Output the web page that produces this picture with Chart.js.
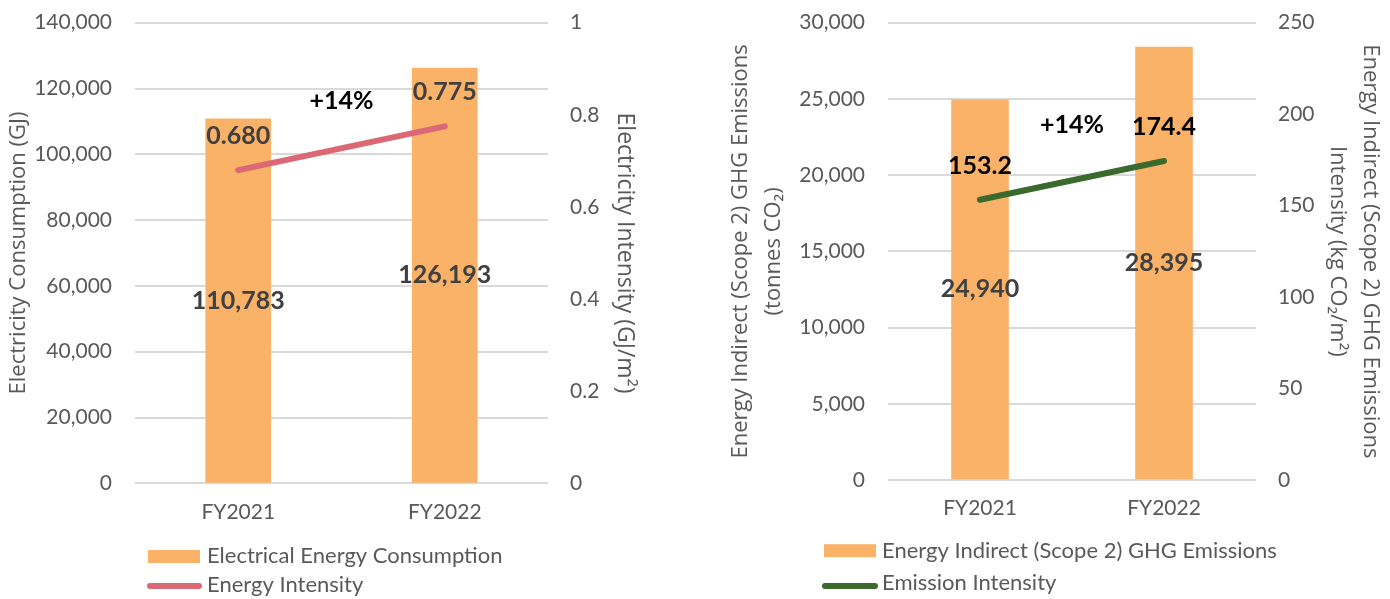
<!DOCTYPE html>
<html>
<head>
<meta charset="utf-8">
<script src="https://cdn.jsdelivr.net/npm/chart.js@4.4.0/dist/chart.umd.min.js"></script>
<style>
  html, body { margin: 0; padding: 0; background: #ffffff; }
  #wrap { position: relative; width: 1390px; height: 599px; overflow: hidden; }
  canvas { position: absolute; top: 0; }
  #energyChart { left: 0; }
  #emissionChart { left: 695px; }
</style>
</head>
<body>
<div id="wrap">
  <canvas id="energyChart" width="695" height="599"></canvas>
  <canvas id="emissionChart" width="695" height="599"></canvas>
</div>
<script>
// ---- data ----
const years = ['FY2021', 'FY2022'];

const electricityConsumptionGJ = [110783, 126193];
const energyIntensityGJm2 = [0.680, 0.775];

const scope2EmissionsTonnes = [24940, 28395];
const emissionIntensityKgM2 = [153.2, 174.4];

const yoyChange = ['+14%', '+14%'];

const consumptionTicks = [0, 20000, 40000, 60000, 80000, 100000, 120000, 140000];
const energyIntensityTicks = [0, 0.2, 0.4, 0.6, 0.8, 1];
const emissionTicks = [0, 5000, 10000, 15000, 20000, 25000, 30000];
const emissionIntensityTicks = [0, 50, 100, 150, 200, 250];

// ---- look ----
const ORANGE = '#F9B268';
const PINK = '#DB6874';
const GREEN = '#3A6A2C';
const GRID = '#D9D9D9';
const TEXT = '#595959';
const TICK_FONT = { family: 'Lato', size: 21 };
const TITLE_FAMILY = 'Open Sans';
const BOLD = 'bold 25px Lato';

const fmtInt = v => v.toLocaleString('en-US');

// numbers printed on bars (centred) and above the line points
function valueLabels(cfg) {
  return {
    id: 'valueLabels',
    afterDatasetsDraw(chart) {
      const ctx = chart.ctx;
      ctx.save();
      ctx.textAlign = 'center';
      ctx.textBaseline = 'middle';
      cfg.series.forEach(s => {
        const meta = chart.getDatasetMeta(s.dataset);
        const values = chart.data.datasets[s.dataset].data;
        ctx.font = s.font;
        ctx.fillStyle = s.color;
        meta.data.forEach((el, i) => {
          const text = s.decimals > 0 ? values[i].toFixed(s.decimals) : fmtInt(values[i]);
          const y = meta.type === 'bar' ? (el.y + el.base) / 2 : el.y - s.lift;
          ctx.fillText(text, el.x, y);
        });
      });
      // growth note between the two years
      const note = cfg.note;
      const lineMeta = chart.getDatasetMeta(note.dataset);
      const p0 = lineMeta.data[0], p1 = lineMeta.data[1];
      const yScale = chart.scales[note.axis];
      ctx.font = note.font;
      ctx.fillStyle = note.color;
      ctx.fillText(note.text, (p0.x + p1.x) / 2, yScale.getPixelForValue(note.at));
      ctx.restore();
    }
  };
}

// legend stacked in rows under the axis
function stackedLegend(cfg) {
  return {
    id: 'stackedLegend',
    afterDraw(chart) {
      const ctx = chart.ctx;
      ctx.save();
      ctx.font = cfg.font;
      ctx.textBaseline = 'middle';
      ctx.textAlign = 'left';
      cfg.items.forEach(it => {
        const ds = chart.data.datasets[it.dataset];
        if (ds.type === 'bar') {
          ctx.fillStyle = ds.backgroundColor;
          ctx.fillRect(it.x, it.y - it.h / 2, it.w, it.h);
        } else {
          ctx.strokeStyle = ds.borderColor;
          ctx.lineWidth = 6;
          ctx.lineCap = 'round';
          ctx.beginPath();
          ctx.moveTo(it.x + 3, it.y);
          ctx.lineTo(it.x + it.w - 3, it.y);
          ctx.stroke();
        }
        ctx.fillStyle = TEXT;
        ctx.fillText(ds.label, it.textX, it.textY);
      });
      ctx.restore();
    }
  };
}

function fixedTicks(values, fmt) {
  return {
    afterBuildTicks(scale) { scale.ticks = values.map(v => ({ value: v })); },
    callback: fmt
  };
}

function buildChart(canvasId, spec) {
  const leftTicks = fixedTicks(spec.leftTicks, v => fmtInt(v));
  const rightTicks = fixedTicks(spec.rightTicks, v => String(v));
  return new Chart(document.getElementById(canvasId), {
    type: 'bar',
    data: {
      labels: years,
      datasets: [
        {
          type: 'line',
          label: spec.lineLabel,
          data: spec.lineData,
          yAxisID: 'y1',
          borderColor: spec.lineColor,
          backgroundColor: spec.lineColor,
          borderWidth: 6,
          borderCapStyle: 'round',
          pointRadius: 0,
          tension: 0,
          fill: false,
          order: 0
        },
        {
          type: 'bar',
          label: spec.barLabel,
          data: spec.barData,
          yAxisID: 'y',
          backgroundColor: ORANGE,
          barThickness: spec.barThickness,
          order: 1
        }
      ]
    },
    options: {
      responsive: false,
      animation: false,
      devicePixelRatio: 1,
      layout: { padding: { top: spec.top, left: 0, right: 0, bottom: 0 } },
      plugins: { legend: { display: false }, tooltip: { enabled: false } },
      scales: {
        x: {
          grid: { display: false, drawTicks: false },
          border: { display: false },
          ticks: { font: TICK_FONT, color: TEXT, padding: 16 },
          afterFit(s) { s.height = spec.xHeight; s.paddingLeft = 0; s.paddingRight = 0; }
        },
        y: {
          position: 'left',
          min: spec.leftTicks[0],
          max: spec.leftTicks[spec.leftTicks.length - 1],
          afterBuildTicks: leftTicks.afterBuildTicks,
          ticks: { font: TICK_FONT, color: TEXT, padding: 23, callback: leftTicks.callback },
          grid: { color: GRID, lineWidth: 2, drawTicks: false },
          border: { display: false },
          title: {
            display: true,
            text: spec.leftTitle,
            color: TEXT,
            font: { family: TITLE_FAMILY, size: 22, lineHeight: spec.titleLine },
            padding: { top: spec.leftTitlePad, bottom: 0 }
          },
          afterFit(s) { s.width = spec.leftWidth; s.paddingTop = 0; s.paddingBottom = 0; }
        },
        y1: {
          position: 'right',
          min: spec.rightTicks[0],
          max: spec.rightTicks[spec.rightTicks.length - 1],
          afterBuildTicks: rightTicks.afterBuildTicks,
          ticks: { font: TICK_FONT, color: TEXT, padding: 22, callback: rightTicks.callback },
          grid: { display: false, drawTicks: false },
          border: { display: false },
          title: {
            display: true,
            text: spec.rightTitle,
            color: TEXT,
            font: { family: TITLE_FAMILY, size: spec.rightTitleSize, lineHeight: spec.titleLine },
            padding: { top: spec.rightTitlePad, bottom: 0 }
          },
          afterFit(s) { s.width = spec.rightWidth; s.paddingTop = 0; s.paddingBottom = 0; }
        }
      }
    },
    plugins: [
      valueLabels({
        series: [
          { dataset: 1, decimals: 0, font: BOLD, color: '#404040', lift: 0 },
          { dataset: 0, decimals: spec.lineDecimals, font: BOLD, color: spec.lineValueColor, lift: 34 }
        ],
        note: { dataset: 0, axis: 'y1', at: spec.noteAt, text: spec.note, font: BOLD, color: '#000000' }
      }),
      stackedLegend({ font: '22px Lato', items: spec.legend })
    ]
  });
}

// Electricity consumption and intensity
buildChart('energyChart', {
  barLabel: 'Electrical Energy Consumption',
  barData: electricityConsumptionGJ,
  lineLabel: 'Energy Intensity',
  lineData: energyIntensityGJm2,
  lineColor: PINK,
  lineDecimals: 3,
  lineValueColor: '#404040',
  leftTicks: consumptionTicks,
  rightTicks: energyIntensityTicks,
  leftTitle: 'Electricity Consumption (GJ)',
  rightTitle: 'Electricity Intensity (GJ/m\u00B2)',
  rightTitleSize: 23,
  titleLine: 1.25,
  leftTitlePad: 5,
  rightTitlePad: 56,
  leftWidth: 135,
  rightWidth: 147,
  top: 22.7,
  xHeight: 115.7,
  barThickness: 65,
  note: yoyChange[0],
  noteAt: 0.83,
  legend: [
    { dataset: 1, x: 148, y: 556.5, w: 52, h: 13, textX: 207, textY: 556 },
    { dataset: 0, x: 147, y: 586, w: 55, textX: 207, textY: 585 }
  ]
});

// Scope 2 emissions and intensity
buildChart('emissionChart', {
  barLabel: 'Energy Indirect (Scope 2) GHG Emissions',
  barData: scope2EmissionsTonnes,
  lineLabel: 'Emission Intensity',
  lineData: emissionIntensityKgM2,
  lineColor: GREEN,
  lineDecimals: 1,
  lineValueColor: '#000000',
  leftTicks: emissionTicks,
  rightTicks: emissionIntensityTicks,
  leftTitle: ['Energy Indirect (Scope 2) GHG Emissions', '(tonnes CO\u2082)'],
  rightTitle: ['Energy Indirect (Scope 2) GHG Emissions', 'Intensity (kg CO\u2082/m\u00B2)'],
  rightTitleSize: 22,
  titleLine: '33px',
  leftTitlePad: 29,
  rightTitlePad: 3,
  leftWidth: 193,
  rightWidth: 134,
  top: 22.7,
  xHeight: 119,
  barThickness: 57,
  note: yoyChange[1],
  noteAt: 194,
  legend: [
    { dataset: 1, x: 129, y: 550.7, w: 52, h: 13, textX: 187, textY: 551 },
    { dataset: 0, x: 127, y: 586, w: 56, textX: 187, textY: 583 }
  ]
});
</script>
</body>
</html>
